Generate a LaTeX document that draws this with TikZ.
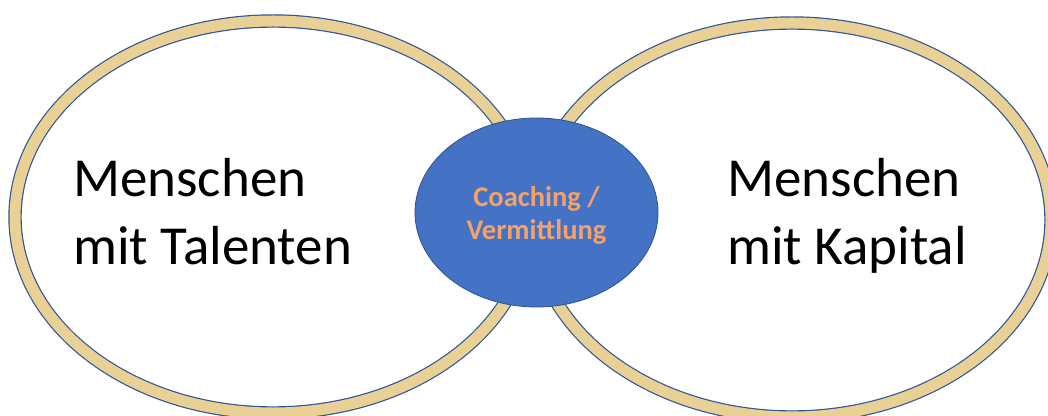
\documentclass[tikz,border=0pt]{standalone}
\usepackage{fontspec}
\setmainfont{Carlito}
\usepackage{xcolor}
\usetikzlibrary{shapes.geometric}
\usetikzlibrary{positioning}
\definecolor{ringblue}{HTML}{2F5597}
\definecolor{ringtan}{HTML}{E9D095}
\definecolor{coachblue}{HTML}{4472C4}
\definecolor{coachedge}{HTML}{2F528F}
\definecolor{coachtext}{HTML}{F4A268}

\tikzset{
  ring/.style={ellipse, draw=ringblue, line width=1.2pt, double=ringtan, double distance=11pt, inner sep=0pt},
  bigtext/.style={anchor=base west, align=left, inner sep=0pt, font=\fontsize{55pt}{68pt}\selectfont},
  coachbox/.style={ellipse, draw=coachedge, line width=0.8pt, fill=coachblue, inner sep=0pt}
}

\begin{document}
\begin{tikzpicture}[x=1pt, y=1pt, line cap=round, line join=round]
  \useasboundingbox (0, 0) rectangle (1048, 415);
  %--- Rings
    \node[ring, minimum width=516pt, minimum height=392pt] (talente) at (273, 198) {};
    \node[ring, minimum width=518pt, minimum height=394pt] (kapital) at (792, 195) {};
  %--- Coaching
    \node[coachbox, minimum width=243pt, minimum height=189pt] (coaching) at (536.5, 202.5) {};
    \node[align=center, font=\bfseries\fontsize{28.5pt}{33pt}\selectfont, text=coachtext] (vermittlung) at ([yshift=-3pt]coaching.center) {Coaching /\\Vermittlung};
  %--- Texts
    \node[bigtext] (talente text) at (73, 150) {Menschen\\mit Talenten};
    \node[bigtext] (kapital text) at (727, 150) {Menschen\\mit Kapital};
\end{tikzpicture}
\end{document}
